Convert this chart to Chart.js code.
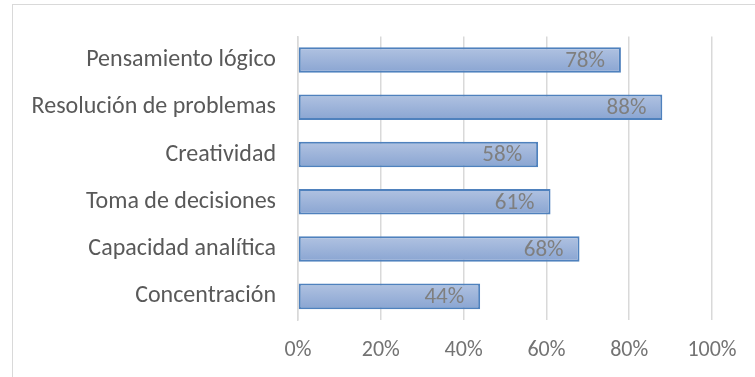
<!DOCTYPE html>
<html>
<head>
<meta charset="utf-8">
<script src="https://cdn.jsdelivr.net/npm/chart.js@4.4.1/dist/chart.umd.min.js"></script>
<style>
  html, body { margin: 0; padding: 0; background: #fff; overflow: hidden; }
  #wrap { position: relative; width: 755px; height: 377px; }
  #frame { position: absolute; left: 12px; top: 4px; width: 800px; height: 400px; border: 1px solid #d9d9d9; box-sizing: border-box; }
  canvas { position: absolute; left: 0; top: 0; }
</style>
</head>
<body>
<div id="wrap">
  <div id="frame"></div>
  <canvas id="c" width="755" height="377"></canvas>
</div>
<script>
const categories = ["Pensamiento lógico", "Resolución de problemas", "Creatividad", "Toma de decisiones", "Capacidad analítica", "Concentración"];
const values = [78, 88, 58, 61, 68, 44];
const xTicks = [0, 20, 40, 60, 80, 100];

const FONT = "Carlito, Lato, 'Open Sans', sans-serif";

const labelPlugin = {
  id: 'valueLabels',
  afterDatasetsDraw(chart) {
    const ctx = chart.ctx;
    const meta = chart.getDatasetMeta(0);
    ctx.save();
    ctx.font = "23px " + FONT;
    ctx.fillStyle = "#7f7f7f";
    ctx.textAlign = "right";
    ctx.textBaseline = "middle";
    meta.data.forEach((el, i) => {
      ctx.fillText(values[i] + "%", el.x - 16, el.y + 1);
    });
    ctx.restore();
  }
};

new Chart(document.getElementById('c'), {
  type: 'bar',
  data: {
    labels: categories,
    datasets: [{
      data: values,
      backgroundColor: (c) => {
        const chart = c.chart;
        if (!chart.chartArea || c.dataIndex === undefined) return '#9cb2d8';
        const y = chart.scales.y.getPixelForValue(c.dataIndex);
        const g = chart.ctx.createLinearGradient(0, y - 12.5, 0, y + 12.5);
        g.addColorStop(0, '#b0c2e1');
        g.addColorStop(1, '#8aa5d2');
        return g;
      },
      borderColor: '#4f81bd',
      borderWidth: 2,
      borderSkipped: false,
      categoryPercentage: 0.54,
      barPercentage: 1.0
    }]
  },
  options: {
    indexAxis: 'y',
    responsive: false,
    animation: false,
    events: [],
    layout: { padding: { top: 32, right: 43, left: 0, bottom: 0 } },
    plugins: { legend: { display: false }, tooltip: { enabled: false } },
    scales: {
      x: {
        min: 0, max: 100,
        afterBuildTicks: (s) => { s.ticks = xTicks.map(v => ({ value: v })); },
        ticks: {
          callback: (v) => v + '%',
          color: '#737373',
          font: { family: FONT, size: 22 },
          padding: 17
        },
        grid: { color: '#d9d9d9', lineWidth: 1.5, drawTicks: false },
        border: { display: false },
        afterFit: (s) => { s.height = 57; }
      },
      y: {
        ticks: {
          color: '#595959',
          font: { family: FONT, size: 24 },
          padding: 22
        },
        grid: { display: false, drawTicks: false },
        border: { display: true, color: '#d9d9d9', width: 1.5 },
        afterFit: (s) => { s.width = 298; }
      }
    }
  },
  plugins: [labelPlugin]
});
</script>
</body>
</html>
